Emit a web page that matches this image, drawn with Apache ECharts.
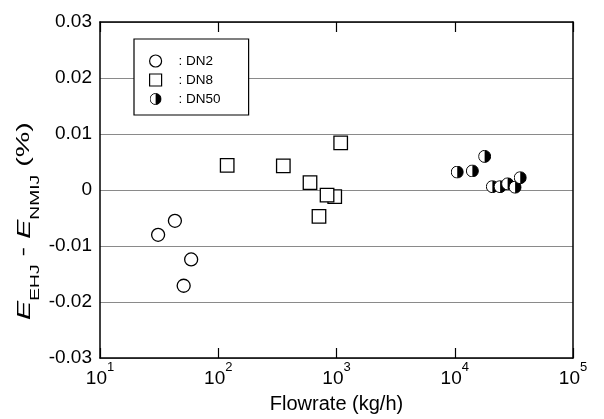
<!DOCTYPE html>
<html>
<head>
<meta charset="utf-8">
<script src="https://cdn.jsdelivr.net/npm/echarts@6/dist/echarts.min.js"></script>
<style>
html,body{margin:0;padding:0;background:#fff;}
#chart{width:604px;height:419px;}
</style>
</head>
<body>
<div id="chart"></div>
<script>
// ---- data ----
const seriesNames = ['DN2', 'DN8', 'DN50'];
const dn2Flow = [43, 31, 59, 51];
const dn2Dev = [-0.0055, -0.0080, -0.0124, -0.0171];
const dn8Flow = [119, 355, 597, 1085, 966, 832, 711];
const dn8Dev = [0.0044, 0.0043, 0.0013, 0.0084, -0.0012, -0.0009, -0.0047];
const dn50Flow = [10500, 14100, 17900, 20800, 24200, 28000, 32400, 35800];
const dn50Dev = [0.0032, 0.0034, 0.0060, 0.0006, 0.0006, 0.0011, 0.0005, 0.0022];
const yTickLabels = ['-0.03', '-0.02', '-0.01', '0', '0.01', '0.02', '0.03'];
const xTickExponents = ['1', '2', '3', '4', '5'];

const FONT = 'Liberation Sans, Arial, sans-serif';

function pairs(xs, ys) { return xs.map((x, i) => [x, ys[i]]); }

const halfSvg = "<svg xmlns='http://www.w3.org/2000/svg' width='40' height='40' viewBox='0 0 40 40'>" +
  "<circle cx='20' cy='20' r='18.5' fill='white' stroke='black' stroke-width='3'/>" +
  "<path d='M20 1.5 A18.5 18.5 0 0 1 20 38.5 Z' fill='black'/></svg>";
const halfSymbol = 'image://data:image/svg+xml;charset=utf-8,' + encodeURIComponent(halfSvg);

const chart = echarts.init(document.getElementById('chart'), null, {renderer: 'canvas'});

const option = {
  animation: false,
  backgroundColor: '#fff',
  grid: {left: 100, right: 31, top: 22, bottom: 59, show: false},
  legend: {
    orient: 'vertical',
    left: 134,
    top: 39,
    padding: [15, 28, 9, 15],
    itemWidth: 12,
    itemHeight: 12,
    itemGap: 5,
    backgroundColor: '#fff',
    borderColor: '#000',
    borderWidth: 1.2,
    borderRadius: 0,
    selectedMode: false,
    itemStyle: {borderWidth: 1.2},
    data: seriesNames,
    formatter: name => '{g|}: ' + name,
    textStyle: {
      fontFamily: FONT, fontSize: 13.5, color: '#000', lineHeight: 12,
      rich: {g: {width: 12}}
    }
  },
  xAxis: [{
    type: 'log', logBase: 10, min: 10, max: 100000,
    position: 'bottom',
    axisLine: {show: true, onZero: false, lineStyle: {color: '#000', width: 1.5}},
    axisTick: {show: true, inside: true, length: 10, lineStyle: {color: '#000', width: 1.2}},
    minorTick: {show: false},
    splitLine: {show: false},
    axisLabel: {
      margin: 3,
      formatter: v => {
        const n = Math.round(Math.log10(v));
        return '{b|10}{s|' + xTickExponents[n - 1] + '}';
      },
      rich: {
        b: {fontFamily: FONT, fontSize: 19, color: '#000', lineHeight: 27, verticalAlign: 'bottom'},
        s: {fontFamily: FONT, fontSize: 13, color: '#000', lineHeight: 13, verticalAlign: 'top'}
      }
    },
    name: 'Flowrate (kg/h)',
    nameLocation: 'middle',
    nameGap: 36,
    nameTextStyle: {fontFamily: FONT, fontSize: 20, color: '#000'}
  }, {
    type: 'log', logBase: 10, min: 10, max: 100000,
    position: 'top',
    axisLine: {show: true, onZero: false, lineStyle: {color: '#000', width: 1.5}},
    axisTick: {show: true, inside: true, length: 10, lineStyle: {color: '#000', width: 1.2}},
    minorTick: {show: false},
    splitLine: {show: false},
    axisLabel: {show: false}
  }],
  yAxis: [{
    type: 'value', min: -0.03, max: 0.03, interval: 0.01,
    position: 'left',
    axisLine: {show: true, onZero: false, lineStyle: {color: '#000', width: 1.5}},
    axisTick: {show: false},
    splitLine: {show: true, lineStyle: {color: '#8a8a8a', width: 1}},
    axisLabel: {
      margin: 8,
      fontFamily: FONT, fontSize: 19, color: '#000',
      formatter: v => yTickLabels[Math.round((v + 0.03) / 0.01)]
    }
  }, {
    type: 'value', min: -0.03, max: 0.03, interval: 0.01,
    position: 'right',
    axisLine: {show: true, onZero: false, lineStyle: {color: '#000', width: 1.5}},
    axisTick: {show: false},
    splitLine: {show: false},
    axisLabel: {show: false}
  }],
  graphic: [{
    type: 'text',
    x: 28.5, y: 221,
    rotation: Math.PI / 2,
    scaleX: 1.6,
    silent: true,
    style: {
      text: '{i|E}{s|EHJ}{n| - }{i|E}{s|NMIJ}{n| (%)}',
      align: 'center',
      verticalAlign: 'middle',
      fill: '#000',
      rich: {
        i: {fontFamily: FONT, fontSize: 18, fontStyle: 'italic', lineHeight: 18, verticalAlign: 'top', fill: '#000'},
        n: {fontFamily: FONT, fontSize: 18, lineHeight: 18, verticalAlign: 'top', fill: '#000'},
        s: {fontFamily: FONT, fontSize: 12, lineHeight: 26, verticalAlign: 'bottom', fill: '#000'}
      }
    }
  }],
  series: [{
    name: 'DN2', type: 'scatter',
    symbol: 'circle', symbolSize: 13,
    itemStyle: {color: '#fff', borderColor: '#000', borderWidth: 1.3, opacity: 1},
    emphasis: {disabled: true},
    data: pairs(dn2Flow, dn2Dev)
  }, {
    name: 'DN8', type: 'scatter',
    symbol: 'rect', symbolSize: 13.5,
    itemStyle: {color: '#fff', borderColor: '#000', borderWidth: 1.3, opacity: 1},
    emphasis: {disabled: true},
    data: pairs(dn8Flow, dn8Dev)
  }, {
    name: 'DN50', type: 'scatter',
    symbol: halfSymbol, symbolSize: 13,
    itemStyle: {color: '#000', borderColor: '#000', opacity: 1},
    emphasis: {disabled: true},
    data: pairs(dn50Flow, dn50Dev)
  }]
};
chart.setOption(option);
</script>
</body>
</html>
